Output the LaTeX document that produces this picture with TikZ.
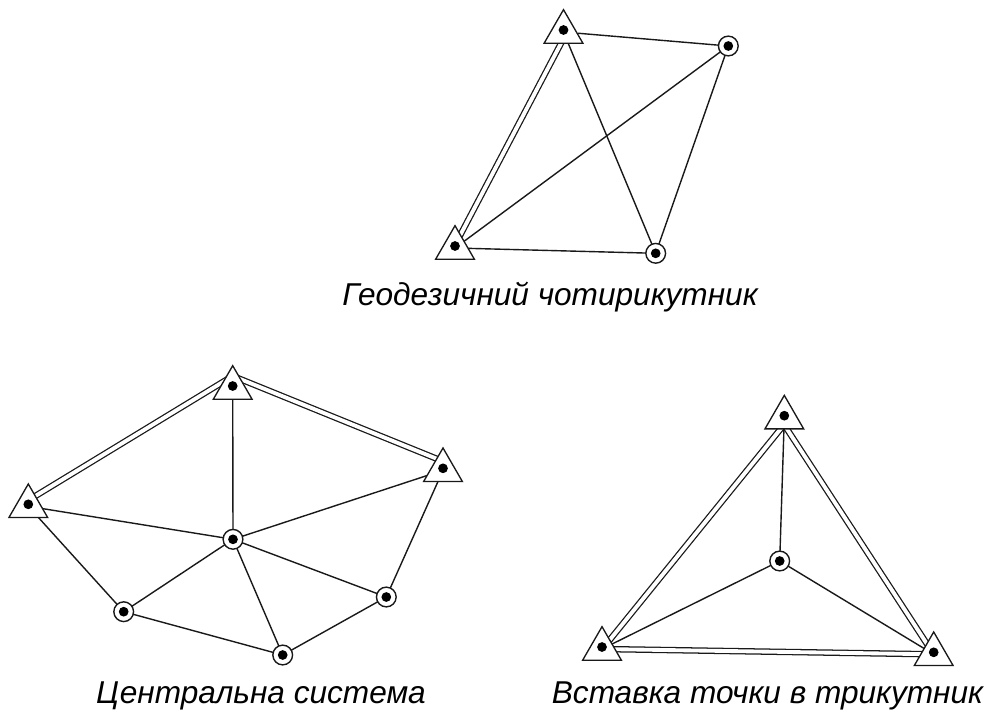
\documentclass[tikz,border=0pt]{standalone}
\usepackage{fontspec}
\setmainfont{Liberation Sans}
\usetikzlibrary{shapes.geometric,backgrounds}
\tikzset{
  x=0.75pt,y=-0.75pt,
  linkline/.style={draw=black!90,line width=1.05pt},
  dbl/.style={draw=black!90,line width=0.95pt,double=white,double distance=2.9pt},
  centredot/.style={circle,fill=black,inner sep=0pt,minimum size=7.3pt},
  tri/.style={regular polygon,regular polygon sides=3,draw=black!90,fill=white,line width=1pt,inner sep=0pt,minimum size=33.5pt,
    label={[centredot,yshift=1.5pt]center:{}}},
  ring/.style={circle,draw=black!90,fill=white,line width=1.05pt,inner sep=0pt,minimum size=14.8pt,
    label={[centredot]center:{}}},
  caption/.style={font=\fontsize{23.7pt}{26pt}\selectfont\itshape,anchor=base,inner sep=0pt,text=black},
}
\begin{document}
\begin{tikzpicture}
\useasboundingbox (0,0) rectangle (988,711);
% top
\node[tri] (a1) at (563.5,32) {};
\node[ring] (a2) at (728.3,46) {};
\node[tri] (a3) at (455,248) {};
\node[ring] (a4) at (655.7,253.3) {};
% central
\node[tri] (b1) at (232.7,388) {};
\node[tri] (b2) at (443,470.3) {};
\node[tri] (b3) at (28.3,506.3) {};
\node[ring] (b4) at (233,539.3) {};
\node[ring] (b5) at (123.7,611.7) {};
\node[ring] (b6) at (282.7,655) {};
\node[ring] (b7) at (386.3,597) {};
% insert
\node[tri] (c1) at (784.3,417.7) {};
\node[ring] (c2) at (779.7,561) {};
\node[tri] (c3) at (602,649) {};
\node[tri] (c4) at (933.7,654.3) {};
\begin{scope}[on background layer]
\draw[dbl] ([shift={(-1,-1)}]a3.center) -- ([shift={(4.5,-2)}]a1.center);
\draw[linkline] (a1) -- (a2);
\draw[linkline] (a1.center) -- (a4.center);
\draw[linkline] (a3.center) -- (a2.center);
\draw[linkline] (a3.center) -- (a4.center);
\draw[linkline] (a2.center) -- (a4.center);
\draw[dbl] ([shift={(0,-12)}]b1.center) -- ([shift={(0,-6)}]b3.center);
\draw[dbl] ([shift={(0,-12)}]b1.center) -- ([shift={(0,-9)}]b2.center);
\draw[linkline] (b1.center) -- (b4.center);
\draw[linkline] (b2.center) -- (b4.center);
\draw[linkline] (b3.center) -- (b4.center);
\draw[linkline] (b3.center) -- (b5.center);
\draw[linkline] (b2.center) -- (b7.center);
\draw[linkline] (b5.center) -- (b4.center);
\draw[linkline] (b6.center) -- (b4.center);
\draw[linkline] (b7.center) -- (b4.center);
\draw[linkline] (b5.center) -- (b6.center);
\draw[linkline] (b6.center) -- (b7.center);
\draw[dbl] ([shift={(7,-2)}]c1.center) -- ([shift={(2,-2)}]c3.center);
\draw[dbl] ([shift={(-6,-2)}]c1.center) -- (c4.center);
\draw[dbl] (c3.center) -- (c4.center);
\draw[linkline] (c1.center) -- (c2.center);
\draw[linkline] (c3.center) -- (c2.center);
\draw[linkline] (c4.center) -- (c2.center);
\end{scope}
\node[caption] (t1) at (550,305) {Геодезичний чотирикутник};
\node[caption] (t2) at (261,703) {Центральна система};
\node[caption] (t3) at (767.5,703) {Вставка точки в трикутник};
\end{tikzpicture}
\end{document}
